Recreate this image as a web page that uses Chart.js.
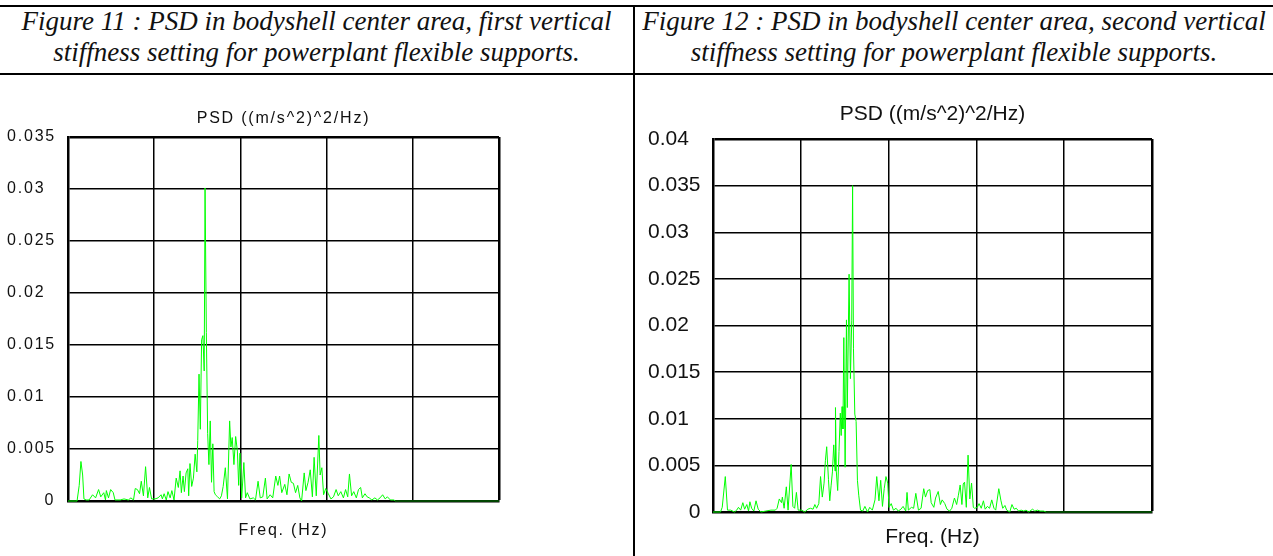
<!DOCTYPE html>
<html>
<head>
<meta charset="utf-8">
<script src="https://cdn.jsdelivr.net/npm/chart.js@4.4.1/dist/chart.umd.min.js"></script>
<style>
  body { margin: 0; width: 1273px; height: 556px; overflow: hidden; position: relative; background: #fff; }
  .rule { position: absolute; background: #000; }
  .cap { position: absolute; top: 6px; text-align: center; font-family: "Liberation Serif", "Times New Roman", serif;
         font-style: italic; font-size: 27px; line-height: 31px; color: #111; white-space: nowrap; }
  .box { position: absolute; top: 80px; height: 476px; }
</style>
</head>
<body>
<div class="rule" style="left:0;top:5px;width:1273px;height:2px"></div>
<div class="rule" style="left:0;top:73px;width:1273px;height:2px"></div>
<div class="rule" style="left:633px;top:5px;width:2px;height:551px"></div>

<div class="cap" style="left:0;width:633px">Figure 11 : PSD in bodyshell center area, first vertical<br>stiffness setting for powerplant flexible supports.</div>
<div class="cap" style="left:635px;width:638px">Figure 12 : PSD in bodyshell center area, second vertical<br>stiffness setting for powerplant flexible supports.</div>

<div class="box" style="left:0;width:633px"><canvas id="fig11"></canvas></div>
<div class="box" style="left:635px;width:638px"><canvas id="fig12"></canvas></div>

<script>
/*--------------------------------------------------------------
| Data (frequency in plot units, 0-100 = grid width)
--------------------------------------------------------------*/
const yTitle = "PSD ((m/s^2)^2/Hz)";
const xTitle = "Freq. (Hz)";

const freq11 = [0, 2.1, 2.6, 3.0, 3.4, 3.7, 4.2, 4.9, 5.7, 6.4, 7.1, 7.6, 8.3, 8.7, 8.9, 9.4, 9.9, 10.5, 10.9, 12.1,
  13.0, 14.0, 14.6, 15.2, 15.6, 16.1, 16.6, 17.0, 17.5, 18.0, 18.5, 18.9, 19.4, 20.2, 20.9, 21.6, 21.9, 22.3, 22.8, 23.2,
  23.7, 24.1, 24.6, 25.1, 25.6, 26.0, 26.3, 26.7, 27.0, 27.4, 27.8, 28.0, 28.3, 28.7, 29.1, 29.5, 29.9, 30.1, 30.4, 30.7,
  31.0, 31.3, 31.6, 31.8, 32.1, 32.4, 32.7, 33.0, 33.3, 33.6, 33.9, 34.2, 34.7, 35.2, 35.6, 36.0, 36.5, 37.0, 37.5, 37.8,
  38.1, 38.5, 38.9, 39.3, 39.6, 39.9, 40.3, 40.8, 41.2, 41.6, 42.2, 43.0, 43.5, 44.1, 44.6, 45.2, 45.8, 46.2, 46.9, 47.5,
  48.2, 48.7, 49.1, 49.6, 50.3, 50.8, 51.3, 51.8, 52.3, 52.8, 53.3, 53.8, 54.2, 54.8, 55.2, 55.7, 56.2, 56.7, 57.1, 57.6,
  58.2, 58.5, 58.9, 59.3, 59.8, 60.4, 61.0, 61.6, 62.2, 62.7, 63.3, 63.9, 64.4, 64.9, 65.3, 65.8, 66.3, 66.9, 67.4, 67.9,
  68.3, 68.9, 69.4, 69.9, 70.5, 71.2, 71.8, 72.4, 73.0, 73.6, 74.1, 74.8, 75.6, 76.0, 100, 114.6];
const psd11 = [0, 0, 0.0015, 0.0038, 0.0025, 0.0002, 0.0001, 0.0001, 0.0006, 0.0003, 0.0011, 0.0004, 0.0008, 0.0001, 0.001, 0.0003, 0.0011, 0.0008, 0.0001, 0.0001,
  0.0002, 0.0001, 0.0003, 0.0001, 0.0012, 0.0011, 0.0007, 0.0019, 0.0005, 0.0033, 0.0003, 0.0013, 0.0002, 0.0002, 0.0003, 0.0006, 0.0002, 0.0007, 0.0001, 0.0009,
  0.0003, 0.001, 0.0001, 0.0022, 0.0013, 0.0029, 0.0008, 0.0024, 0.0009, 0.0027, 0.0031, 0.0005, 0.0036, 0.0014, 0.0022, 0.0045, 0.0028, 0.0058, 0.0122, 0.0069,
  0.0155, 0.0159, 0.0125, 0.0301, 0.0162, 0.0065, 0.0035, 0.0077, 0.0018, 0.0055, 0.0009, 0.0006, 0.0004, 0.0002, 0.0005, 0.0014, 0.0032, 0.0002, 0.0077, 0.0052,
  0.0061, 0.0035, 0.0062, 0.0048, 0.0015, 0.0046, 0.0003, 0.0037, 0.0003, 0.0008, 0.0002, 0.0003, 0.0001, 0.0019, 0.0003, 0.0004, 0.0022, 0.0002, 0.0006, 0.0003,
  0.0024, 0.0015, 0.0024, 0.0008, 0.0016, 0.0006, 0.0026, 0.0018, 0.0017, 0.0008, 0.0015, 0.0003, 0, 0.0027, 0.001, 0.0018, 0.003, 0.0004, 0.0042, 0.0005,
  0.0063, 0.0025, 0.0032, 0.0006, 0.0012, 0.0007, 0.0002, 0.0004, 0.0011, 0.0005, 0.0009, 0.0003, 0.0011, 0.0004, 0.0026, 0.0005, 0.0009, 0.0003, 0.0011, 0.0013,
  0.0003, 0.0007, 0.0004, 0.0003, 0.0001, 0.0003, 0.0001, 0.0003, 0.0006, 0.0002, 0.0004, 0.0001, 0.0001, 0, 0, 0];

const freq12 = [0, 1.7, 2.1, 2.8, 3.3, 4.0, 4.9, 5.4, 5.8, 6.3, 6.8, 7.2, 7.7, 8.1, 8.4, 8.8, 9.3, 9.8, 10.3, 10.9,
  12.0, 13.2, 14.2, 14.6, 15.1, 15.6, 15.8, 16.2, 16.7, 17.1, 17.8, 18.2, 18.6, 19.0, 19.4, 20.2, 20.9, 21.6, 22.2, 22.8,
  23.2, 23.6, 24.1, 24.5, 24.9, 25.3, 25.6, 25.9, 26.3, 26.6, 26.9, 27.2, 27.5, 27.8, 27.9, 28.1, 28.4, 28.7, 29.0, 29.2,
  29.4, 29.6, 29.8, 30.1, 30.4, 30.6, 31.0, 31.3, 31.6, 31.8, 32.0, 32.3, 32.6, 32.9, 33.2, 33.6, 34.1, 34.6, 35.2, 35.7,
  36.3, 36.9, 37.3, 37.8, 38.2, 38.6, 39.0, 39.4, 39.8, 40.1, 40.6, 41.1, 41.7, 42.2, 42.8, 43.3, 43.9, 44.2, 44.5, 45.2,
  45.7, 46.2, 46.8, 47.4, 48.0, 48.4, 48.9, 49.4, 49.7, 50.3, 50.7, 51.3, 51.8, 52.2, 52.8, 53.3, 53.9, 54.4, 55.0, 55.5,
  55.9, 56.3, 56.7, 57.0, 57.3, 57.7, 58.1, 58.5, 58.9, 59.3, 59.6, 60.2, 60.6, 61.1, 61.6, 62.0, 62.5, 63.0, 63.5, 64.0,
  64.4, 65.1, 65.6, 66.0, 66.5, 66.9, 67.6, 68.1, 68.6, 69.1, 69.6, 70.2, 70.8, 71.3, 71.9, 72.8, 73.3, 73.9, 74.5, 75.3,
  75.9, 100, 113.9];
const psd12 = [0, 0, 0.0005, 0.0038, 0.0002, 0.0002, 0, 0.0002, 0.0005, 0.0002, 0.001, 0.0003, 0.0008, 0.0001, 0.0011, 0.0004, 0.0001, 0.0012, 0.0003, 0,
  0.0001, 0.0002, 0.0002, 0.0004, 0.0014, 0.001, 0.0016, 0.0004, 0.0027, 0.0002, 0.0051, 0.0006, 0.0004, 0.0021, 0.0002, 0.0002, 0, 0.0003, 0.0004, 0.0003,
  0.0008, 0.0004, 0.0009, 0.0038, 0.0016, 0.0031, 0.0055, 0.007, 0.0035, 0.0012, 0.0028, 0.0043, 0.0072, 0.0044, 0.0112, 0.0043, 0.0023, 0.0065, 0.0106, 0.0082,
  0.0113, 0.0089, 0.0187, 0.0048, 0.0206, 0.0112, 0.0255, 0.0143, 0.0205, 0.035, 0.0175, 0.0105, 0.0097, 0.0034, 0.0018, 0.0002, 0.0001, 0.0006, 0, 0.0005,
  0.0002, 0.0013, 0.0038, 0.0012, 0.0034, 0.0006, 0.0025, 0.0038, 0.0031, 0.0005, 0.0009, 0.0002, 0.0004, 0.0001, 0.0003, 0.0006, 0.0001, 0.0021, 0.0002, 0.0005,
  0.0004, 0.002, 0.0002, 0.0004, 0.0025, 0.0016, 0.0023, 0.0024, 0.001, 0.0005, 0.0015, 0.0022, 0.0008, 0.0013, 0.0009, 0.0003, 0.0001, 0.0004, 0.0015, 0.0008,
  0.0018, 0.0029, 0.0008, 0.003, 0.0032, 0.0005, 0.0061, 0.0014, 0.0031, 0.0005, 0.0004, 0.0005, 0.0009, 0.0004, 0.0012, 0.0003, 0.0006, 0.0004, 0.0013, 0.0004,
  0.0002, 0.0025, 0.0012, 0.0004, 0.0007, 0.0002, 0, 0.0008, 0.0003, 0.0004, 0.0001, 0.0002, 0.0001, 0.0002, 0, 0.0003, 0.0001, 0.0002, 0.0001, 0.0001,
  0, 0, 0];

const yMax11 = 0.035;
const yMax12 = 0.04;

/*--------------------------------------------------------------
| Shared chart builder
--------------------------------------------------------------*/
function psdChart(id, freq, psd, yMax, s) {
    const el = document.getElementById(id);
    if (!el) {
        return;
    }

    const font = { family: "'Liberation Sans', Arial, sans-serif", size: s.fontSize };
    const edge = (v, max) => (Math.abs(v - max) < 1e-9 ? 2.5 : 1.5);

    // letter-spaced text on the first plot
    const spacing = {
        id: "spacing",
        beforeUpdate(chart) { chart.ctx.letterSpacing = s.letterSpacing; },
        beforeDraw(chart) { chart.ctx.letterSpacing = s.letterSpacing; },
    };

    // line lying on the axis looks darker, the part past the box lighter
    const segColor = (c) => {
        if (c.p0.parsed.x >= 100) return "#80ff80";
        if (c.p0.parsed.y === 0 && c.p1.parsed.y === 0 && c.p0.parsed.x > 70) return "#008a00";
        return undefined;
    };

    return new Chart(el, {
        type: "line",
        data: {
            datasets: [
                {
                    data: freq.map((f, i) => ({ x: f, y: psd[i] })),
                    borderColor: "#00ff00",
                    borderWidth: 1,
                    pointRadius: 0,
                    tension: 0,
                    clip: false,
                    segment: { borderColor: segColor },
                },
            ],
        },
        plugins: [spacing],
        options: {
            responsive: true,
            maintainAspectRatio: false,
            animation: false,
            layout: { padding: { left: s.padLeft, right: s.padRight, top: 0, bottom: 0 } },
            plugins: {
                legend: { display: false },
                tooltip: { enabled: false },
            },
            scales: {
                x: {
                    type: "linear",
                    position: "bottom",
                    min: 0,
                    max: 100,
                    ticks: { display: false, stepSize: 20 },
                    grid: {
                        color: "#000",
                        lineWidth: (c) => edge(c.tick ? c.tick.value : 0, 100),
                        drawTicks: false,
                    },
                    border: { color: "#000", width: 2.5 },
                    title: {
                        display: true,
                        text: xTitle,
                        color: "#111",
                        font: font,
                        padding: { top: 0, bottom: s.xTitleBottom },
                    },
                    afterFit(scale) { scale.height = s.bottomH; },
                },
                top: {
                    type: "linear",
                    position: "top",
                    min: 0,
                    max: 100,
                    ticks: { display: false },
                    grid: { display: false, drawTicks: false },
                    border: { display: false },
                    title: {
                        display: true,
                        text: yTitle,
                        color: "#111",
                        font: font,
                        padding: { top: s.topTitleTop, bottom: 0 },
                    },
                    afterFit(scale) { scale.height = s.topH; },
                },
                y: {
                    min: 0,
                    max: yMax,
                    ticks: {
                        stepSize: 0.005,
                        color: "#111",
                        font: font,
                        crossAlign: "far",
                        // the zero label sits to the right of the others
                        callback: (v) => (v === 0 ? s.zeroPad + "0" : String(parseFloat(v.toFixed(3)))),
                    },
                    grid: {
                        color: "#000",
                        lineWidth: (c) => edge(c.tick ? c.tick.value : 0, yMax),
                        drawTicks: false,
                    },
                    border: { color: "#000", width: 2.5 },
                    afterFit(scale) { scale.width = s.leftW; },
                },
            },
        },
    });
}

document.addEventListener("DOMContentLoaded", () => {
    psdChart("fig11", freq11, psd11, yMax11, {
        fontSize: 16, letterSpacing: "1.8px", padLeft: 7, padRight: 134, leftW: 61, topH: 57, bottomH: 55,
        topTitleTop: 29, xTitleBottom: 16, zeroPad: "      ",
    });
    psdChart("fig12", freq12, psd12, yMax12, {
        fontSize: 21, letterSpacing: "0px", padLeft: 13, padRight: 121, leftW: 65, topH: 59, bottomH: 44,
        topTitleTop: 22, xTitleBottom: 6, zeroPad: "       ",
    });
});
</script>
</body>
</html>
